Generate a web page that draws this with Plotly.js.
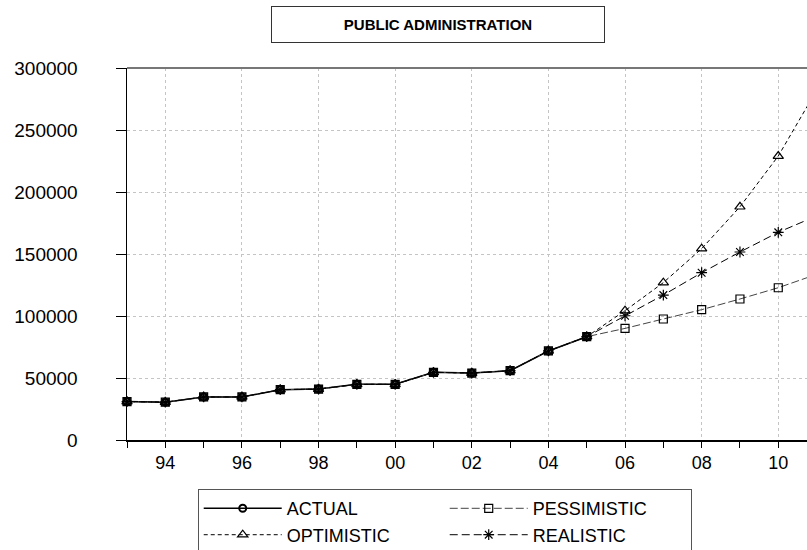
<!DOCTYPE html>
<html>
<head>
<meta charset="utf-8">
<script src="https://cdn.plot.ly/plotly-3.0.1.min.js"></script>
<style>html,body{margin:0;padding:0;background:#fff;}#chart{width:807px;height:550px;}</style>
</head>
<body>
<div id="chart"></div>
<script>
// Historical data
const years = [1993, 1994, 1995, 1996, 1997, 1998, 1999, 2000, 2001, 2002, 2003, 2004, 2005];
const actual = [31000, 30500, 34700, 34700, 40600, 41100, 44900, 44900, 54600, 54000, 55900, 71800, 83300];
// Forecasts (starting from last actual year)
const forecastYears = [2005, 2006, 2007, 2008, 2009, 2010, 2011];
const pessimistic = [83300, 90000, 97600, 105100, 113700, 122800, 133600];
const optimistic = [83300, 104300, 126900, 154300, 188100, 229000, 282000];
const realistic = [83300, 100200, 116900, 134900, 151600, 167500, 180700];
// Tick labels
const tickYears = [1994, 1996, 1998, 2000, 2002, 2004, 2006, 2008, 2010];
const tickLabels = ['94', '96', '98', '00', '02', '04', '06', '08', '10'];
const yTicks = [0, 50000, 100000, 150000, 200000, 250000, 300000];

const fullX = years.concat(forecastYears.slice(1));
function full(f) { return actual.concat(f.slice(1)); }

const traces = [
  {x: years, y: actual, name: 'ACTUAL', mode: 'lines+markers',
   line: {color: '#000', width: 1.5}, marker: {symbol: 'circle-open', size: 7, color: '#000', line: {width: 2}}},
  {x: fullX, y: full(pessimistic), name: 'PESSIMISTIC', mode: 'lines+markers',
   line: {color: '#444', width: 1, dash: '8px,3px'}, marker: {symbol: 'square-open', size: 8, color: '#000', line: {width: 1.2}}},
  {x: fullX, y: full(optimistic), name: 'OPTIMISTIC', mode: 'lines+markers',
   line: {color: '#000', width: 1, dash: '4px,3px'}, marker: {symbol: 'triangle-up-open', size: 9, color: '#000', line: {width: 1.2}}},
  {x: fullX, y: full(realistic), name: 'REALISTIC', mode: 'lines+markers',
   line: {color: '#000', width: 1, dash: '8px,4px'}, marker: {symbol: 'asterisk-open', size: 9, color: '#000', line: {width: 1.2}}}
];
traces.forEach(t => { t.cliponaxis = false; });

const layout = {
  width: 807, height: 550,
  margin: {l: 127, r: 0, t: 68, b: 110, pad: 0, autoexpand: false},
  paper_bgcolor: '#fff', plot_bgcolor: '#fff',
  font: {family: 'Liberation Sans, Arial, sans-serif', size: 18, color: '#000'},
  showlegend: true,
  xaxis: {
    range: [1993, 2010.75], tickmode: 'array', tickvals: tickYears, ticktext: tickLabels,
    ticks: 'outside', ticklen: 6, tickcolor: '#000', tickwidth: 1,
    showline: true, linecolor: '#000', linewidth: 1.5,
    showgrid: true, gridcolor: '#c4c4c4', griddash: '3px,3px', gridwidth: 1,
    zeroline: false,
    minor: {tickmode: 'linear', tick0: 1993, dtick: 1, ticks: 'outside', ticklen: 6, tickcolor: '#000', showgrid: false},
    tickfont: {size: 18}
  },
  yaxis: {
    range: [0, 300000], tickmode: 'array', tickvals: yTicks, ticktext: yTicks.map(String),
    ticks: 'outside', ticklen: 10, tickcolor: '#000', tickwidth: 1,
    showline: true, linecolor: '#000', linewidth: 1.5,
    showgrid: true, gridcolor: '#c4c4c4', griddash: '3px,3px', gridwidth: 1,
    zeroline: false, ticklabelstandoff: 34,
    tickfont: {size: 19}
  },
  legend: {
    orientation: 'h', x: 0.104, y: -0.132, xanchor: 'left', yanchor: 'top',
    bordercolor: '#555', borderwidth: 1, bgcolor: '#fff',
    entrywidth: 153, entrywidthmode: 'pixels', itemwidth: 78,
    font: {size: 18}, traceorder: 'normal'
  },
  shapes: [
    {type: 'line', xref: 'paper', yref: 'paper', x0: 0, x1: 1, y0: 1, y1: 1, line: {color: '#777', width: 2}}
  ],
  annotations: [
    {text: '<b>PUBLIC ADMINISTRATION</b>', xref: 'paper', yref: 'paper', x: 0.457, y: 1.118,
     xanchor: 'center', yanchor: 'middle', showarrow: false, width: 330, height: 33,
     bordercolor: '#333', borderwidth: 1, bgcolor: '#fff', font: {size: 15, color: '#000'}}
  ]
};

Plotly.newPlot('chart', traces, layout, {displayModeBar: false, staticPlot: true});
</script>
</body>
</html>
